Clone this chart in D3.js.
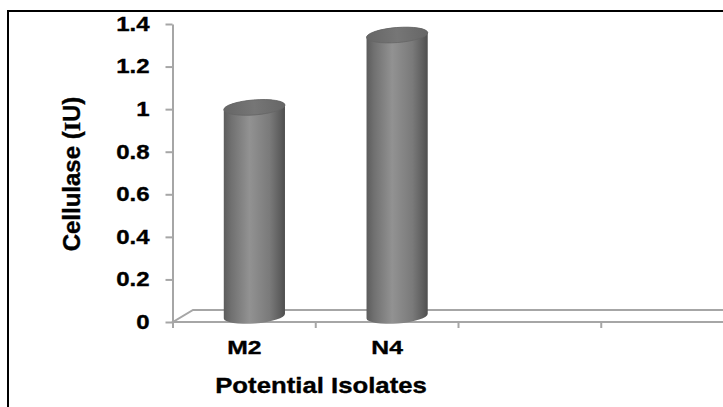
<!DOCTYPE html>
<html>
<head>
<meta charset="utf-8">
<script src="https://cdn.jsdelivr.net/npm/d3@7"></script>
<style>
  html, body { margin: 0; padding: 0; background: #fff; }
  svg { display: block; }
  text { font-family: "Liberation Sans", Arial, sans-serif; font-weight: bold; fill: #000; stroke: #000; stroke-width: 0.35; }
</style>
</head>
<body>
<svg id="chart" width="723" height="407"></svg>
<script>
// Cellulase activity of the potential isolates
const categories = ["M2", "N4"];
const cellulase = [0.98, 1.32];
const slotCount = 4;                 // category slots along the floor
const yTicks = [0, 0.2, 0.4, 0.6, 0.8, 1, 1.2, 1.4];
const yTitle = "Cellulase (";
const yUnitI = "I";
const yUnitRest = "U)";
const xTitle = "Potential Isolates";

const svg = d3.select("#chart");

// outer frame
svg.append("rect")
  .attr("x", 8).attr("y", 11).attr("width", 730).attr("height", 410)
  .attr("fill", "none").attr("stroke", "#000").attr("stroke-width", 2);

const y = d3.scaleLinear().domain([0, 1.4]).range([322, 24]);
const x = d3.scaleBand().domain(d3.range(slotCount)).range([173, 744]).padding(0);

// oblique depth of the 3-D floor
const depth = { dx: 20, dy: -12 };
const gridColor = "#a6a6a6";

// floor
const x0 = x.range()[0], x1 = 723;
const floor = svg.append("g").attr("stroke", gridColor).attr("stroke-width", 2).attr("fill", "none");
floor.append("path")
  .attr("d", `M${x1},${y(0) + depth.dy}H${x0 + depth.dx}L${x0},${y(0)}H${x1}`);

// category tick marks at slot boundaries
floor.selectAll("line.xt")
  .data(d3.range(slotCount + 1))
  .join("line")
  .attr("class", "xt")
  .attr("x1", i => x0 + i * x.step()).attr("x2", i => x0 + i * x.step())
  .attr("y1", y(0)).attr("y2", y(0) + 6);

// value axis
const tickStretch = 1.2;
const yAxis = svg.append("g")
  .attr("transform", `translate(${x0 - 0.5},0)`)
  .call(d3.axisLeft(y).tickValues(yTicks).tickSize(7).tickSizeOuter(0)
    .tickPadding(23).tickFormat(d3.format("")));
yAxis.select(".domain").attr("stroke", gridColor).attr("stroke-width", 2);
yAxis.selectAll(".tick line").attr("stroke", gridColor).attr("stroke-width", 2);
yAxis.selectAll(".tick text")
  .attr("x", -23 / tickStretch)
  .attr("transform", `scale(${tickStretch},1)`)
  .attr("font-size", 20)
  .attr("font-family", "Liberation Sans, Arial, sans-serif")
  .attr("font-weight", "bold")
  .attr("fill", "#000");

// cylinder shading
const defs = svg.append("defs");
const grad = defs.append("linearGradient").attr("id", "cyl").attr("x1", 0).attr("x2", 1).attr("y1", 0).attr("y2", 0);
[[0, "#5c5c5c"], [0.12, "#707070"], [0.42, "#929292"], [0.75, "#7a7a7a"], [0.92, "#5e5e5e"], [1, "#4e4e4e"]]
  .forEach(([o, c]) => grad.append("stop").attr("offset", o).attr("stop-color", c));
const gradTop = defs.append("linearGradient").attr("id", "cylTop").attr("x1", 0).attr("x2", 1).attr("y1", 0).attr("y2", 0);
[[0, "#666666"], [0.5, "#767676"], [1, "#666666"]]
  .forEach(([o, c]) => gradTop.append("stop").attr("offset", o).attr("stop-color", c));

const rx = x.bandwidth() * 0.215;
const ry = 7.5;
const tilt = -4.5;                   // degrees
const ca = Math.cos(tilt * Math.PI / 180), sa = Math.sin(tilt * Math.PI / 180);

const bars = svg.append("g").selectAll("g")
  .data(categories.map((c, i) => ({ c, v: cellulase[i], i })))
  .join("g");

bars.each(function(d) {
  const g = d3.select(this);
  const cx = x(d.i) + x.bandwidth() / 2 + depth.dx / 2;
  const yb = y(0) + depth.dy / 2;
  const yt = y(d.v) + depth.dy / 2;
  const L = [cx - rx * ca, -rx * sa], R = [cx + rx * ca, rx * sa];
  g.append("path")
    .attr("d", `M${L[0]},${yt + L[1]}L${L[0]},${yb + L[1]}` +
      `A${rx},${ry} ${tilt} 0 0 ${R[0]},${yb + R[1]}` +
      `L${R[0]},${yt + R[1]}A${rx},${ry} ${tilt} 0 0 ${L[0]},${yt + L[1]}Z`)
    .attr("fill", "url(#cyl)");
  g.append("ellipse")
    .attr("cx", cx).attr("cy", yt).attr("rx", rx).attr("ry", ry)
    .attr("transform", `rotate(${tilt},${cx},${yt})`)
    .attr("fill", "url(#cylTop)")
    .attr("stroke", "#666").attr("stroke-width", 0.8);
});

// category labels
const catStretch = 1.3;
svg.append("g").selectAll("text")
  .data(categories)
  .join("text")
  .attr("transform", (d, i) => `translate(${x(i) + x.bandwidth() / 2},354) scale(${catStretch},1)`)
  .attr("text-anchor", "middle")
  .attr("font-size", 19)
  .text(d => d);

// axis titles
svg.append("text")
  .attr("transform", "translate(321,393) scale(1.17,1)")
  .attr("text-anchor", "middle")
  .attr("font-size", 22)
  .text(xTitle);

const yt = svg.append("text")
  .attr("transform", "translate(80,174) rotate(-90)")
  .attr("text-anchor", "middle")
  .attr("font-size", 24);
yt.append("tspan").text(yTitle);
yt.append("tspan").attr("font-family", "Liberation Serif, serif").text(yUnitI);
yt.append("tspan").text(yUnitRest);
</script>
</body>
</html>
